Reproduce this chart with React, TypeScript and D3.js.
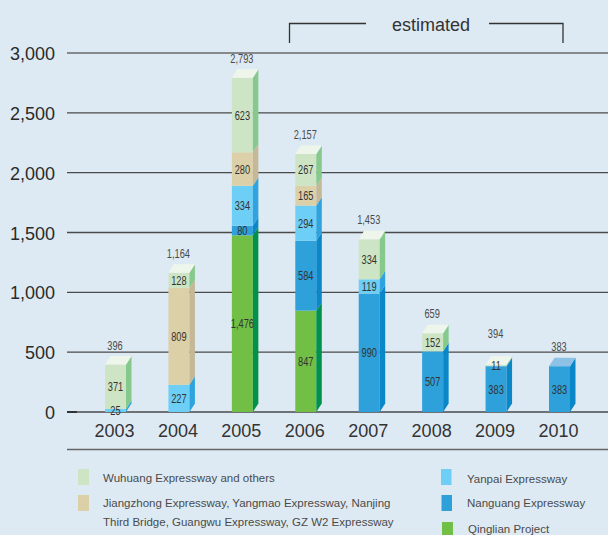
import React from "react";
import * as d3 from "d3";

const years = ["2003", "2004", "2005", "2006", "2007", "2008", "2009", "2010"];
const qinglian = [0, 0, 1476, 847, 0, 0, 0, 0];
const nanguang = [0, 0, 80, 584, 990, 507, 383, 383];
const yanpai = [25, 227, 334, 294, 119, 0, 0, 0];
const jiangzhong = [0, 809, 280, 165, 0, 0, 0, 0];
const wuhuang = [371, 128, 623, 267, 334, 152, 11, 0];
const totals = [396, 1164, 2793, 2157, 1453, 659, 394, 383];
const yTicks = [0, 500, 1000, 1500, 2000, 2500, 3000];

const seriesKeys = ["qinglian", "nanguang", "yanpai", "jiangzhong", "wuhuang"];
const seriesData: Record<string, number[]> = { qinglian, nanguang, yanpai, jiangzhong, wuhuang };

const colors: Record<string, { front: string; side: string; top: string }> = {
  wuhuang: { front: "#cee5c5", side: "#86c98c", top: "#eef6ec" },
  jiangzhong: { front: "#dcd0a8", side: "#c4b897", top: "#ece5cf" },
  yanpai: { front: "#6ecff6", side: "#2ea3dd", top: "#b5e5f9" },
  nanguang: { front: "#2ea0da", side: "#0a87c9", top: "#8dc1e6" },
  qinglian: { front: "#71bf45", side: "#00924a", top: "#b6dd9c" },
};

const legendLeft = [
  { key: "wuhuang", lines: ["Wuhuang Expressway and others"] },
  { key: "jiangzhong", lines: ["Jiangzhong Expressway, Yangmao Expressway, Nanjing", "Third Bridge, Guangwu Expressway, GZ W2 Expressway"] },
];
const legendRight = [
  { key: "yanpai", lines: ["Yanpai Expressway"] },
  { key: "nanguang", lines: ["Nanguang Expressway"] },
  { key: "qinglian", lines: ["Qinglian Project"] },
];

const W = 608;
const H = 535;
const BG = "#deeaf3";
const FONT = "'Liberation Sans', Arial, Helvetica, sans-serif";

export default function App() {
  const x = d3.scalePoint<string>().domain(years).range([115.5, 559.5]);
  const y = d3.scaleLinear().domain([0, 3000]).range([412, 53]);
  const bw = 21;
  const dx = 5.5;
  const dy = 8.5;
  const fmt = d3.format(",");

  const table = years.map((yr, i) => {
    const row: any = { year: yr };
    seriesKeys.forEach((k) => (row[k] = seriesData[k][i]));
    return row;
  });
  const stacked = d3.stack<any>().keys(seriesKeys)(table);

  const narrowText = (key: string, tx: number, ty: number, label: string, fill: string) => (
    <text
      key={key}
      transform={`translate(${tx},${ty}) scale(0.74,1)`}
      textAnchor="middle"
      fontFamily={FONT}
      fontSize={12.5}
      fill={fill}
    >
      {label}
    </text>
  );

  const bars = years.map((yr, i) => {
    const cx = x(yr)!;
    const x0 = cx - bw / 2;
    const x1 = cx + bw / 2;
    const segs = stacked
      .map((s) => ({ key: s.key, v0: s[i][0], v1: s[i][1], value: s[i][1] - s[i][0] }))
      .filter((s) => s.value > 0);
    const topSeg = segs[segs.length - 1];
    const yt = y(topSeg.v1);
    return (
      <g key={yr}>
        {segs.map((s) => {
          const ya = y(s.v1);
          const yb = y(s.v0);
          const c = colors[s.key];
          return (
            <g key={s.key}>
              <rect x={x0} y={ya} width={bw} height={yb - ya} fill={c.front} />
              <polygon
                points={`${x1},${ya} ${x1 + dx},${ya - dy} ${x1 + dx},${yb - dy} ${x1},${yb}`}
                fill={c.side}
              />
            </g>
          );
        })}
        <polygon
          points={`${x0},${yt} ${x0 + dx},${yt - dy} ${x1 + dx},${yt - dy} ${x1},${yt}`}
          fill={colors[topSeg.key].top}
        />
        {segs.map((s) =>
          narrowText("l" + s.key, cx, (y(s.v0) + y(s.v1)) / 2 + 4.5, fmt(s.value), "#333")
        )}
        {narrowText(
          "total",
          cx - 0.5,
          yt - dy - 6.5 - (topSeg.value < 50 ? 12 : 0),
          fmt(totals[i]),
          "#4a4a4a"
        )}
        <text x={cx - 1} y={436.5} textAnchor="middle" fontFamily={FONT} fontSize={18} fill="#333">
          {yr}
        </text>
      </g>
    );
  });

  const legendItem = (item: any, sx: number, sy: number, tx: number, ty: number, sw: number, sh: number) => (
    <g key={item.key}>
      <rect x={sx} y={sy} width={sw} height={sh} fill={colors[item.key].front} />
      {item.lines.map((ln: string, j: number) => (
        <text key={j} x={tx} y={ty + j * 19} fontFamily={FONT} fontSize={11.5} fill="#4a4a4a">
          {ln}
        </text>
      ))}
    </g>
  );

  return (
    <svg
      width={W}
      height={H}
      style={{ position: "absolute", left: 0, top: 0, display: "block" }}
    >
      <rect x={0} y={0} width={W} height={H} fill={BG} />
      {yTicks.map((t) => (
        <g key={t}>
          <line
            x1={67}
            x2={W}
            y1={y(t)}
            y2={y(t)}
            stroke={t === 3000 ? "#6a6a6a" : "#4a4a4a"}
            strokeWidth={1.4}
          />
          <text
            x={55}
            y={y(t) + 7}
            textAnchor="end"
            fontFamily={FONT}
            fontSize={18}
            fill="#2a2a2a"
          >
            {fmt(t)}
          </text>
        </g>
      ))}
      <line x1={67} x2={77} y1={y(0)} y2={y(0)} stroke="#222" strokeWidth={1.6} />
      <line x1={67} x2={W} y1={449.5} y2={449.5} stroke="#666" strokeWidth={1.4} />
      {bars}
      <g stroke="#333" strokeWidth={1.3} fill="none">
        <polyline points="289.5,43 289.5,23.5 366,23.5" />
        <polyline points="489,23.5 563,23.5 563,43" />
      </g>
      <text x={431} y={30.5} textAnchor="middle" fontFamily={FONT} fontSize={18} fill="#333">
        estimated
      </text>
      {legendItem(legendLeft[0], 78, 469, 103, 481.5, 11, 16)}
      {legendItem(legendLeft[1], 78, 495, 103, 506.5, 11, 16)}
      {legendItem(legendRight[0], 441, 469, 467, 482.5, 10.5, 16)}
      {legendItem(legendRight[1], 441.5, 495, 467, 506.5, 10.5, 16)}
      {legendItem(legendRight[2], 442, 522, 468, 533, 11, 16)}
    </svg>
  );
}
